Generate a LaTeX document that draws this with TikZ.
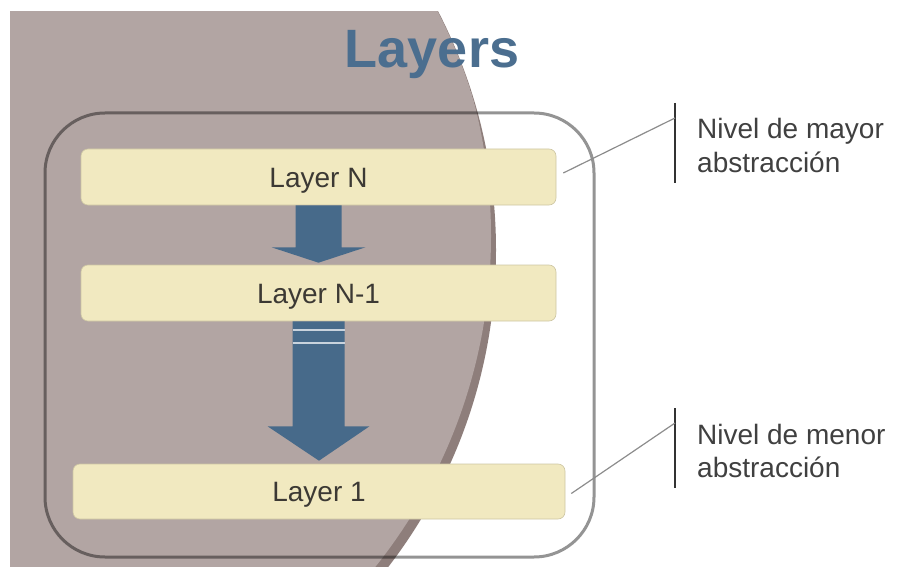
\documentclass[tikz,border=0pt]{standalone}
\usepackage{fontspec}
\setmainfont{Liberation Sans}
\usetikzlibrary{calc}
\definecolor{fondo}{HTML}{B2A5A3}
\definecolor{sombra}{HTML}{8E7E7B}
\definecolor{azul}{HTML}{476A8A}
\definecolor{titulo}{HTML}{4B6E8F}
\definecolor{crema}{HTML}{F1E9C0}
\definecolor{texto}{HTML}{3C3934}
\definecolor{raya}{HTML}{C9D3DD}
\begin{document}
\begin{tikzpicture}[x=1pt,y=-1pt,
    capa/.style={fill=crema, draw=crema!85!black, line width=0.6pt, rounded corners=7pt,
      minimum height=56pt, text height=20pt, text depth=0pt, text=texto,
      font=\fontsize{28}{33}\selectfont},
    flecha/.style={fill=azul},
    nota/.style={anchor=base west, align=left, inner sep=0pt, text=black!75,
      font=\fontsize{28}{33}\selectfont},
    guia/.style={draw=black!45, line width=1.2pt},
    barra/.style={draw=black!80, line width=1.4pt}]
  \useasboundingbox (0,0) rectangle (900,567);
  \begin{scope}
    \clip (10,12) rectangle (900,567);
    \fill[sombra] (-24,250) circle (520pt);
    \clip (-24,250) circle (519.5pt);
    \fill[fondo] (-40,236) circle (531pt);
  \end{scope}
  \node[text=titulo, font=\fontsize{54}{60}\selectfont\bfseries, anchor=base] (tit) at (432,68) {Layers};
  \draw[black, draw opacity=0.42, line width=3pt, rounded corners=60pt] (45,113) rectangle (594,557);
  \node[capa, minimum width=475pt] (capaN) at (318.5,177) {Layer N};
  \node[capa, minimum width=475pt] (capaN1) at (318.5,293) {Layer N-1};
  \node[capa, minimum width=492pt, minimum height=55pt] (capa1) at (319,491.5) {Layer 1};
  \fill[flecha] ($(capaN.south)+(-23,0)$) -- ++(0,42) -- ++(-24,0) -- ($(capaN1.north)+(0,-2)$)
    -- ($(capaN.south)+(47,42)$) -- ++(-24,0) -- ++(0,-42) -- cycle;
  \fill[flecha] ($(capaN1.south)+(-26,0)$) -- ++(0,105) -- ++(-25,0) -- ($(capa1.north)+(0,-3)$)
    -- ($(capaN1.south)+(51,105)$) -- ++(-25,0) -- ++(0,-105) -- cycle;
  \draw[raya, line width=2pt] ($(capaN1.south)+(-26,9)$) -- ++(52,0);
  \draw[raya, line width=2pt] ($(capaN1.south)+(-26,22)$) -- ++(52,0);
  \node[nota] (mayor) at (697,172) {Nivel de mayor\\abstracción};
  \node[nota] (menor) at (697,477) {Nivel de menor\\abstracción};
  \coordinate (m1) at (675,118);
  \coordinate (m2) at (675,423);
  \draw[barra] (675,103) -- (675,183);
  \draw[barra] (675,408) -- (675,488);
  \draw[guia] ($(capaN.east)+(7,-4)$) -- (m1);
  \draw[guia] ($(capa1.east)+(6,2)$) -- (m2);
\end{tikzpicture}
\end{document}
